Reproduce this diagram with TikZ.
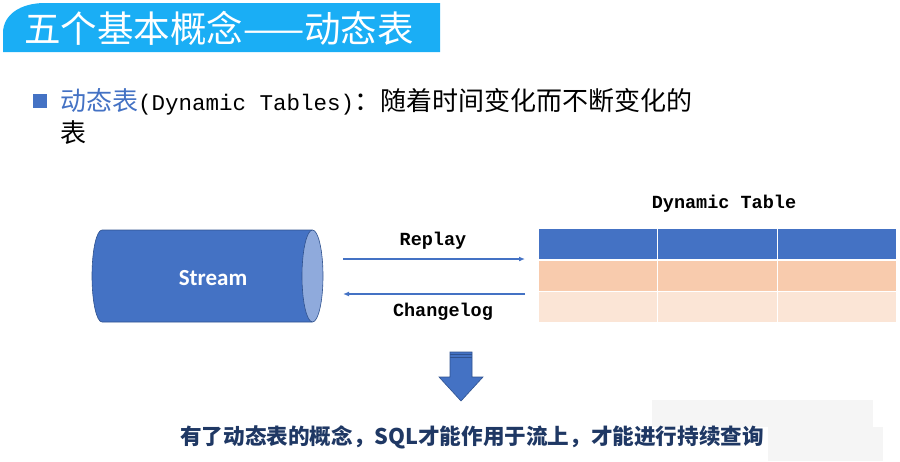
\documentclass[tikz,border=0pt]{standalone}
\usepackage{fontspec}
\usetikzlibrary{arrows.meta}
\newfontfamily\cjk{Noto Sans CJK SC}
\newfontfamily\mono{Liberation Mono}
\newfontfamily\calib{Carlito}
\definecolor{titleblue}{RGB}{26,174,245}
\definecolor{accent}{RGB}{68,114,196}
\definecolor{edge}{RGB}{47,82,143}
\definecolor{facelight}{RGB}{143,170,220}
\definecolor{peach}{RGB}{248,203,173}
\definecolor{peachlight}{RGB}{251,229,214}
\definecolor{navy}{RGB}{31,56,100}
\tikzset{
  cell/.style={draw=white, line width=1.5pt, minimum width=119.67pt, minimum height=31.5pt, inner sep=0pt},
  flow/.style={accent, line width=1.5pt, -{Latex[length=6pt,width=5pt]}},
  lbl/.style={font=\mono\bfseries\fontsize{18.5}{18.5}\selectfont, inner sep=0pt}
}

\begin{document}
\begin{tikzpicture}[x=1pt,y=-1pt]
    \useasboundingbox (0,0) rectangle (900,461);

    % Title bar
    \fill[titleblue] (3,52) -- (3,33) .. controls (3,15) and (20,3) .. (45,3) -- (440,3) -- (440,52) -- cycle;
    \node[anchor=west, inner sep=0pt, text=white, font=\cjk\fontsize{36.5}{36.5}\selectfont] (title) at (24,28) {五个基本概念——动态表};

    % Definition
    \node[fill=accent, minimum size=14pt, inner sep=0pt] (bullet) at (40,101) {};
    \node[anchor=west, inner sep=0pt, font=\cjk\fontsize{26}{26}\selectfont] (def) at (60,102)
        {\textcolor{accent}{动态表}{\mono\fontsize{22.5}{26}\selectfont(Dynamic Tables)}：随着时间变化而不断变化的};
    \node[anchor=west, inner sep=0pt, font=\cjk\fontsize{26}{26}\selectfont] (def2) at (60,133) {表};

    % Stream
    \filldraw[fill=accent, draw=edge, line width=0.6pt] (312,230) -- (102,230)
        arc[start angle=270, end angle=90, x radius=10, y radius=46] -- (312,322) -- cycle;
    \filldraw[fill=facelight, draw=edge, line width=0.6pt] (312.5,276) ellipse [x radius=10.5, y radius=46];
    \node[text=white, font=\calib\bfseries\fontsize{23}{23}\selectfont] (stream) at (213,278) {Stream};

    % Replay / Changelog
    \coordinate (repA) at (343,259);
    \coordinate (repB) at (525,259);
    \coordinate (chgA) at (525,294);
    \coordinate (chgB) at (343,294);
    \draw[flow] (repA) -- (repB);
    \draw[flow] (chgA) -- (chgB);
    \node[lbl] (replay) at (433,241) {Replay};
    \node[lbl] (changelog) at (443,312) {Changelog};

    % Dynamic table
    \node[lbl] (tabname) at (724,204) {Dynamic Table};
    \foreach \r/\col/\y in {1/accent/244, 2/peach/275.5, 3/peachlight/307} {
        \foreach \c/\x in {1/597.83, 2/717.5, 3/837.17} {
            \node[cell, fill=\col] (t\r\c) at (\x,\y) {};
        }
    }

    % Down arrow
    \filldraw[fill=accent, draw=edge, line width=0.6pt] (450,352) -- (472,352) -- (472,377) -- (483,377)
        -- (461,401) -- (439,377) -- (450,377) -- cycle;
    \draw[edge, line width=0.8pt] (450,354.5) -- (472,354.5);
    \draw[edge, line width=0.8pt] (450,357.5) -- (472,357.5);

    % Conclusion
    \fill[black!4] (652,400) rectangle (873,427);
    \fill[black!4] (768,427) rectangle (883,461);
    \node[anchor=west, inner sep=0pt, text=navy, font=\cjk\bfseries\fontsize{21.6}{21.6}\selectfont] (summary) at (180,437)
        {有了动态表的概念，SQL才能作用于流上，才能进行持续查询};
\end{tikzpicture}
\end{document}
